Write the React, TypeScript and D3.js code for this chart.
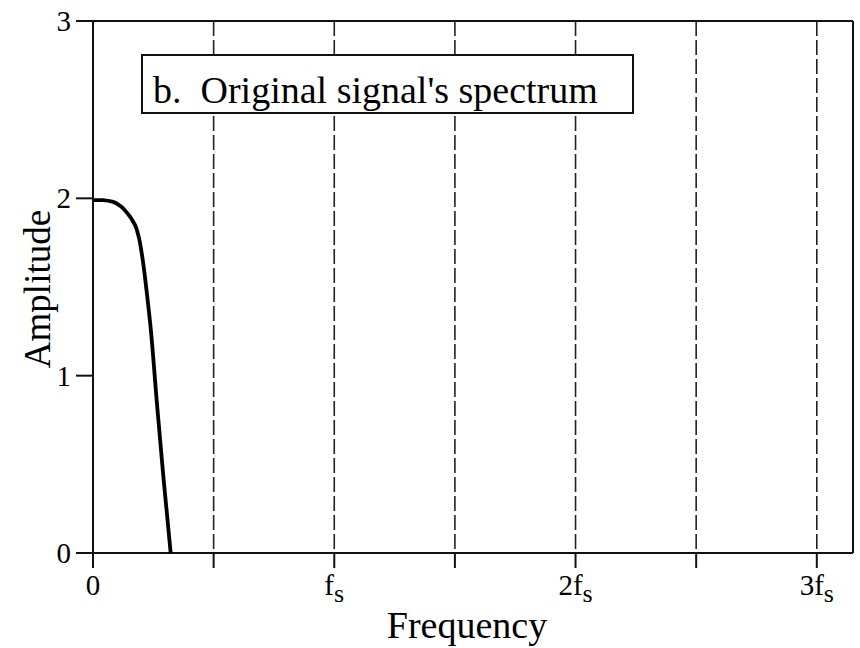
import React from "react";
import * as d3 from "d3";

// Spectrum curve (frequency in units of fs, amplitude)
const freq = [0, 0.04, 0.083, 0.11, 0.14, 0.174, 0.19, 0.202, 0.222, 0.236, 0.264, 0.291, 0.322];
const amp = [1.99, 1.99, 1.98, 1.96, 1.92, 1.85, 1.78, 1.69, 1.48, 1.31, 0.86, 0.44, 0];

// Axis ticks
const xTicks = [0, 0.5, 1, 1.5, 2, 2.5, 3];
const xTickLabels = [
  { v: 0, pre: "0", sub: "" },
  { v: 1, pre: "f", sub: "s" },
  { v: 2, pre: "2f", sub: "s" },
  { v: 3, pre: "3f", sub: "s" },
];
const dashedAt = [0.5, 1, 1.5, 2, 2.5, 3];
const yTicks = [0, 1, 2, 3];

const title = "b.  Original signal's spectrum";
const xTitle = "Frequency";
const yTitle = "Amplitude";

export default function App() {
  const W = 860, H = 648;
  const left = 93, right = 853, top = 21, bottom = 553;
  const x = d3.scaleLinear().domain([0, 3.15]).range([left, right]);
  const y = d3.scaleLinear().domain([0, 3]).range([bottom, top]);
  const pts = freq.map((f, i) => [f, amp[i]] as [number, number]);
  const line = d3
    .line<[number, number]>()
    .x((d) => x(d[0]))
    .y((d) => y(d[1]))
    .curve(d3.curveMonotoneY);
  const font = "'Liberation Serif', 'Times New Roman', serif";

  return (
    <svg
      width={W}
      height={H}
      style={{ position: "absolute", left: 0, top: 0, background: "#fff" }}
      fontFamily={font}
    >
      <rect x={0} y={0} width={W} height={H} fill="#fff" />
      {dashedAt.map((v) => (
        <line
          key={v}
          x1={x(v)}
          x2={x(v)}
          y1={top}
          y2={bottom}
          stroke="#222"
          strokeWidth={1.6}
          strokeDasharray="15 4"
        />
      ))}
      {/* frame */}
      <line x1={left} x2={right} y1={top} y2={top} stroke="#111" strokeWidth={2} />
      <line x1={right} x2={right} y1={top} y2={bottom} stroke="#111" strokeWidth={2} />
      <line x1={left} x2={left} y1={top} y2={bottom} stroke="#111" strokeWidth={2} />
      <line x1={left} x2={right} y1={bottom} y2={bottom} stroke="#111" strokeWidth={2} />
      {/* y ticks */}
      {yTicks.map((v) => (
        <g key={v}>
          <line x1={left - 17} x2={left} y1={y(v)} y2={y(v)} stroke="#111" strokeWidth={2} />
          <text
            x={left - 22}
            y={y(v)}
            fontSize={29}
            textAnchor="end"
            dominantBaseline="central"
            fill="#000"
          >
            {v}
          </text>
        </g>
      ))}
      {/* x ticks */}
      {xTicks.map((v) => (
        <line key={v} x1={x(v)} x2={x(v)} y1={bottom} y2={bottom + 15} stroke="#111" strokeWidth={2} />
      ))}
      {xTickLabels.map((t) => (
        <text key={t.v} x={x(t.v)} y={595} fontSize={29} textAnchor="middle" fill="#000">
          {t.pre}
          {t.sub && (
            <tspan dy={7} fontSize={26}>
              {t.sub}
            </tspan>
          )}
        </text>
      ))}
      {/* curve */}
      <path d={line(pts) || ""} fill="none" stroke="#000" strokeWidth={3.8} strokeLinejoin="round" />
      {/* title box */}
      <rect x={142} y={55} width={491} height={58} fill="#fff" stroke="#111" strokeWidth={2} />
      <text x={153} y={103} fontSize={38} fill="#000" style={{ whiteSpace: "pre" }}>
        {title}
      </text>
      {/* axis titles */}
      <text x={(left + right) / 2 - 6} y={638} fontSize={38} textAnchor="middle" fill="#000">
        {xTitle}
      </text>
      <text
        transform={`translate(50, ${(top + bottom) / 2 + 2}) rotate(-90)`}
        fontSize={37}
        textAnchor="middle"
        fill="#000"
      >
        {yTitle}
      </text>
    </svg>
  );
}
